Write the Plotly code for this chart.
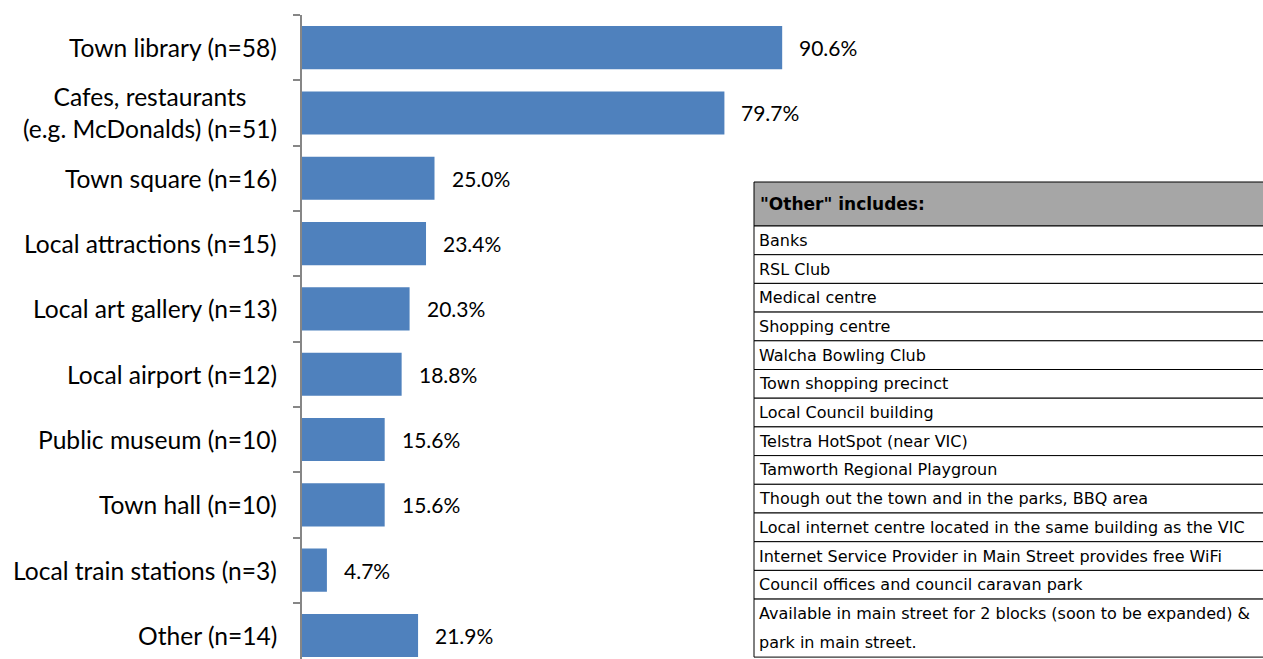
import plotly.graph_objects as go

# Survey results: where free WiFi is available in town
categories = [
    "Town library (n=58)",
    "Cafes, restaurants<br>(e.g. McDonalds) (n=51)",
    "Town square (n=16)",
    "Local attractions (n=15)",
    "Local art gallery (n=13)",
    "Local airport (n=12)",
    "Public museum (n=10)",
    "Town hall (n=10)",
    "Local train stations (n=3)",
    "Other (n=14)",
]
percentages = [90.6, 79.7, 25.0, 23.4, 20.3, 18.8, 15.6, 15.6, 4.7, 21.9]

table_header = '"Other" includes:'
table_rows = [
    "Banks",
    "RSL Club",
    "Medical centre",
    "Shopping centre",
    "Walcha Bowling Club",
    "Town shopping precinct",
    "Local Council building",
    "Telstra HotSpot (near VIC)",
    "Tamworth Regional Playgroun",
    "Though out the town and in the parks, BBQ area",
    "Local internet centre located in the same building as the VIC",
    "Internet Service Provider in Main Street provides free WiFi",
    "Council offices and council caravan park",
    "Available in main street for 2 blocks (soon to be expanded) &<br>park in main street.",
]

W, H = 1263, 659
ML, MT, MB = 302, 15, 0
PLOT_W = 530  # pixels spanned by 0..100 %
MR = W - ML - PLOT_W
PLOT_H = H - MT - MB

BAR_COLOR = "#4F81BD"
AXIS_COLOR = "#868686"
LABEL_FONT = "Lato, Calibri, sans-serif"
TABLE_FONT = "DejaVu Sans, sans-serif"


def px_x(px):
    return (px - ML) / PLOT_W


def px_y(py):
    return (H - MB - py) / PLOT_H


fig = go.Figure()
fig.add_trace(
    go.Bar(
        x=percentages,
        y=categories,
        orientation="h",
        marker=dict(color=BAR_COLOR, line=dict(width=0)),
        hoverinfo="skip",
    )
)

annotations = []
# category labels (centered multi-line like the source)
for cat in categories:
    annotations.append(dict(
        x=0, xref="paper", y=cat, yref="y",
        xanchor="right", yanchor="middle", xshift=-23,
        text=cat, showarrow=False, align="center",
        font=dict(family=LABEL_FONT, size=24.6, color="#000000"),
    ))
# value labels
for cat, v in zip(categories, percentages):
    annotations.append(dict(
        x=v, xref="x", y=cat, yref="y",
        xanchor="left", yanchor="middle", xshift=15,
        text=f"{v:.1f}%", showarrow=False,
        font=dict(family=LABEL_FONT, size=21, color="#000000"),
    ))

# "Other" breakdown table drawn with shapes and text
shapes = []
T_LEFT, T_RIGHT = 754, 1275
T_TOP, HEAD_H, ROW_H = 182, 44, 28.7
TEXT_X = 759

shapes.append(dict(
    type="rect", xref="paper", yref="paper",
    x0=px_x(T_LEFT), x1=px_x(T_RIGHT), y0=px_y(T_TOP), y1=px_y(T_TOP + HEAD_H),
    fillcolor="#A6A6A6", line=dict(color="#000000", width=1), layer="above",
))
annotations.append(dict(
    x=px_x(TEXT_X - 1), xref="paper", y=px_y(T_TOP + HEAD_H / 2), yref="paper",
    xanchor="left", yanchor="middle", text=f"<b>{table_header}</b>",
    showarrow=False, font=dict(family=TABLE_FONT, size=17, color="#000000"),
))

y = T_TOP + HEAD_H
for row in table_rows:
    lines = row.split("<br>")
    h = ROW_H if len(lines) == 1 else 58
    shapes.append(dict(
        type="rect", xref="paper", yref="paper",
        x0=px_x(T_LEFT), x1=px_x(T_RIGHT), y0=px_y(y), y1=px_y(y + h),
        fillcolor="#FFFFFF", line=dict(color="#000000", width=1), layer="above",
    ))
    step = h / len(lines)
    for i, line in enumerate(lines):
        annotations.append(dict(
            x=px_x(TEXT_X - 2), xref="paper", y=px_y(y + step * (i + 0.5)), yref="paper",
            xanchor="left", yanchor="middle", text=line,
            showarrow=False, font=dict(family=TABLE_FONT, size=16, color="#000000"),
        ))
    y += h

fig.update_layout(
    width=W, height=H,
    margin=dict(l=ML, r=MR, t=MT, b=MB, pad=0),
    plot_bgcolor="#FFFFFF", paper_bgcolor="#FFFFFF",
    bargap=0.34,
    showlegend=False,
    annotations=annotations,
    shapes=shapes,
    xaxis=dict(range=[0, 100], visible=False, fixedrange=True),
    yaxis=dict(
        type="category",
        categoryorder="array", categoryarray=categories,
        range=[len(categories) - 0.64, -0.5],
        showticklabels=False,
        showline=True, linecolor=AXIS_COLOR, linewidth=1.5,
        ticks="outside", tickson="boundaries", ticklen=7,
        tickcolor=AXIS_COLOR, tickwidth=1.5,
        showgrid=False, zeroline=False, fixedrange=True,
    ),
)

fig.write_html("out.html", config={"displayModeBar": False})
